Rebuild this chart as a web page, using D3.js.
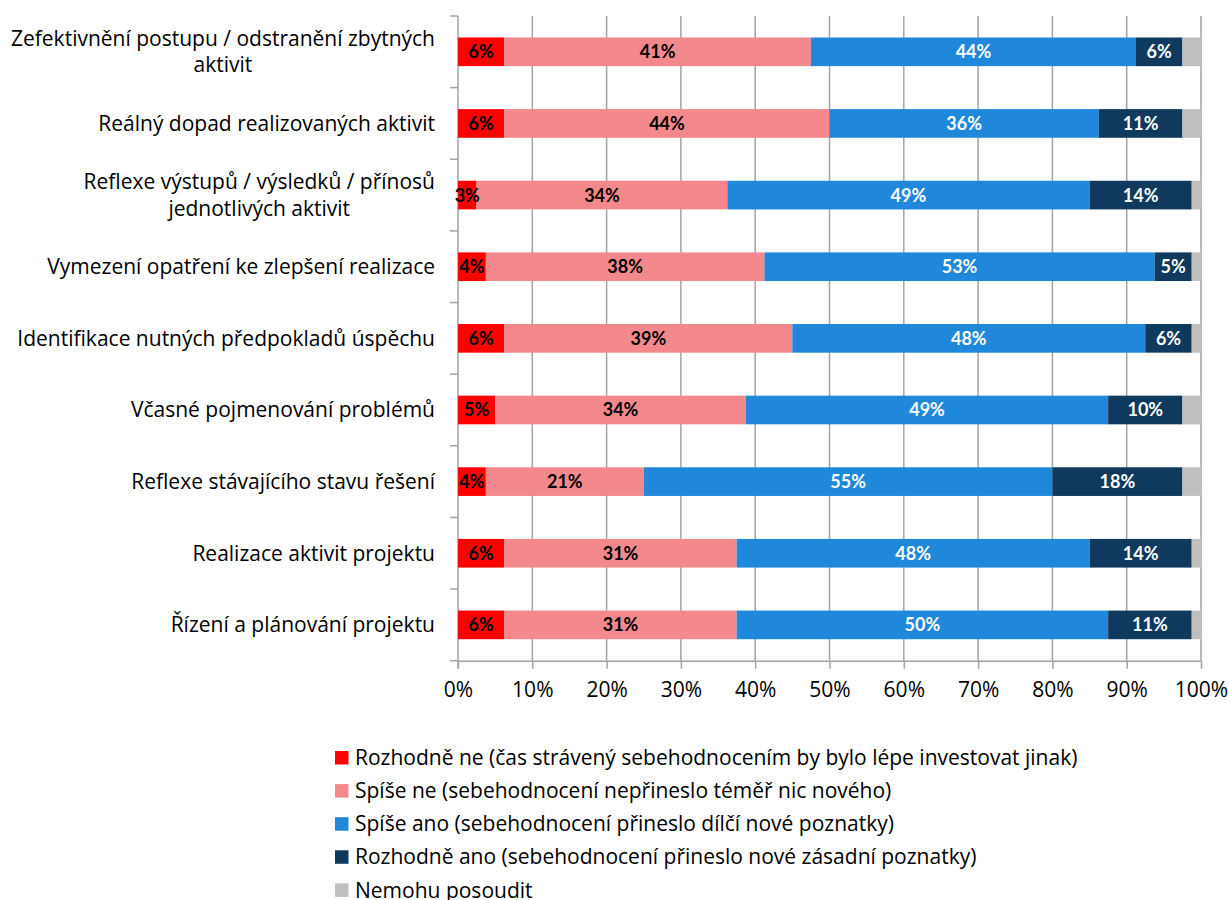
<!DOCTYPE html>
<html>
<head>
<meta charset="utf-8">
<script src="https://cdn.jsdelivr.net/npm/d3@7"></script>
<style>
  html, body { margin: 0; padding: 0; background: #fff; }
  svg { display: block; font-family: "Open Sans", sans-serif; }
</style>
</head>
<body>
<svg id="chart" width="1229" height="900"></svg>
<script>
// Categories, top to bottom; "\n" marks a wrapped line
const categories = [
  "Zefektivnění postupu / odstranění zbytných\naktivit",
  "Reálný dopad realizovaných aktivit",
  "Reflexe výstupů / výsledků / přínosů\njednotlivých aktivit",
  "Vymezení opatření ke zlepšení realizace",
  "Identifikace nutných předpokladů úspěchu",
  "Včasné pojmenování problémů",
  "Reflexe stávajícího stavu řešení",
  "Realizace aktivit projektu",
  "Řízení a plánování projektu"
];

const seriesNames = [
  "Rozhodně ne (čas strávený sebehodnocením by bylo lépe investovat jinak)",
  "Spíše ne (sebehodnocení nepřineslo téměř nic nového)",
  "Spíše ano (sebehodnocení přineslo dílčí nové poznatky)",
  "Rozhodně ano (sebehodnocení přineslo nové zásadní poznatky)",
  "Nemohu posoudit"
];

// Shares of answers in percent, one value per category
const rozhodneNe  = [6.25, 6.25, 2.5, 3.75, 6.25, 5, 3.75, 6.25, 6.25];
const spiseNe     = [41.25, 43.75, 33.75, 37.5, 38.75, 33.75, 21.25, 31.25, 31.25];
const spiseAno    = [43.75, 36.25, 48.75, 52.5, 47.5, 48.75, 55, 47.5, 50];
const rozhodneAno = [6.25, 11.25, 13.75, 5, 6.25, 10, 17.5, 13.75, 11.25];
const nemohu      = [2.5, 2.5, 1.25, 1.25, 1.25, 2.5, 2.5, 1.25, 1.25];

const tickValues = [0, 10, 20, 30, 40, 50, 60, 70, 80, 90, 100];

const seriesValues = [rozhodneNe, spiseNe, spiseAno, rozhodneAno, nemohu];
const colors = ["#ff0000", "#f4898d", "#1f88da", "#0f3a5e", "#bfbfbf"];
const labelColors = ["#000", "#000", "#fff", "#fff", null];

const textFont = "'Open Sans', sans-serif";
const textSize = 21;

const svg = d3.select("#chart");

const x = d3.scaleLinear().domain([0, 100]).range([458, 1201]);
const y = d3.scaleBand().domain(categories).range([16, 660.7])
  .paddingInner(0.6).paddingOuter(0.3);

const gridColor = "#a3a3a3";

// vertical gridlines
svg.append("g")
  .selectAll("line")
  .data(tickValues.slice(1))
  .join("line")
  .attr("x1", d => x(d)).attr("x2", d => x(d))
  .attr("y1", 16).attr("y2", 660.7)
  .attr("stroke", gridColor).attr("stroke-width", 1.5);

// bottom axis with ticks and percent labels
const xAxis = svg.append("g")
  .attr("transform", "translate(0,660.7)")
  .call(d3.axisBottom(x).tickValues(tickValues).tickSize(8).tickSizeOuter(0)
    .tickPadding(13).tickFormat(d => d + "%"));
xAxis.select(".domain").attr("stroke", gridColor).attr("stroke-width", 1.5);
xAxis.selectAll(".tick line").attr("stroke", gridColor).attr("stroke-width", 1.5);
xAxis.selectAll(".tick text")
  .attr("font-family", textFont)
  .attr("font-size", textSize)
  .attr("fill", "#000");

// left axis line with ticks at the band boundaries
const step = y.step();
const boundaries = categories.map(c => y(c) - step * y.paddingOuter());
boundaries.push(y(categories[categories.length - 1]) + y.bandwidth() + step * y.paddingOuter());
const leftAxis = svg.append("g");
leftAxis.append("line")
  .attr("x1", x(0)).attr("x2", x(0))
  .attr("y1", 16).attr("y2", 668.7)
  .attr("stroke", gridColor).attr("stroke-width", 1.5);
leftAxis.selectAll("line.tk")
  .data(boundaries)
  .join("line")
  .attr("class", "tk")
  .attr("x1", x(0) - 8).attr("x2", x(0))
  .attr("y1", d => d).attr("y2", d => d)
  .attr("stroke", gridColor).attr("stroke-width", 1.5);

// stacked segments
const rows = categories.map((cat, i) => {
  let acc = 0;
  return seriesValues.map((vals, s) => {
    const seg = { cat, s, x0: acc, x1: acc + vals[i], v: vals[i] };
    acc += vals[i];
    return seg;
  });
}).flat();

svg.append("g")
  .selectAll("rect")
  .data(rows)
  .join("rect")
  .attr("x", d => x(d.x0))
  .attr("width", d => x(d.x1) - x(d.x0))
  .attr("y", d => y(d.cat))
  .attr("height", y.bandwidth())
  .attr("fill", d => colors[d.s]);

// value labels inside segments
svg.append("g")
  .selectAll("text")
  .data(rows.filter(d => labelColors[d.s]))
  .join("text")
  .attr("x", d => x((d.x0 + d.x1) / 2))
  .attr("y", d => y(d.cat) + y.bandwidth() / 2)
  .attr("dy", "0.36em")
  .attr("text-anchor", "middle")
  .attr("font-family", "Lato, sans-serif")
  .attr("font-weight", "bold")
  .attr("font-size", 18)
  .attr("fill", d => labelColors[d.s])
  .text(d => Math.round(d.v) + "%");

// category labels, right aligned; wrapped lines centred on each other
const catG = svg.append("g");
const lineGap = 26.5;
categories.forEach(cat => {
  const lines = cat.split("\n");
  const cy = y(cat) + y.bandwidth() / 2;
  const t = catG.append("text")
    .attr("font-family", textFont)
    .attr("font-size", textSize)
    .attr("fill", "#000");
  const spans = lines.map((ln, k) => t.append("tspan")
    .attr("y", cy + (k - (lines.length - 1) / 2) * lineGap)
    .attr("dy", "0.35em")
    .text(ln));
  const widths = spans.map(sp => sp.node().getComputedTextLength());
  const w = d3.max(widths);
  const right = 435;
  if (lines.length === 1) {
    spans[0].attr("x", right).attr("text-anchor", "end");
  } else {
    spans.forEach(sp => sp.attr("x", right - w / 2).attr("text-anchor", "middle"));
  }
});

// legend
const legend = svg.append("g");
seriesNames.forEach((name, s) => {
  const top = 751 + s * 33.1;
  legend.append("rect")
    .attr("x", 335).attr("y", top)
    .attr("width", 13.5).attr("height", 13.5)
    .attr("fill", colors[s]);
  legend.append("text")
    .attr("x", 355).attr("y", top + 6.75)
    .attr("dy", "0.35em")
    .attr("font-family", textFont)
    .attr("font-size", textSize)
    .attr("fill", "#000")
    .text(name);
});
</script>
</body>
</html>
